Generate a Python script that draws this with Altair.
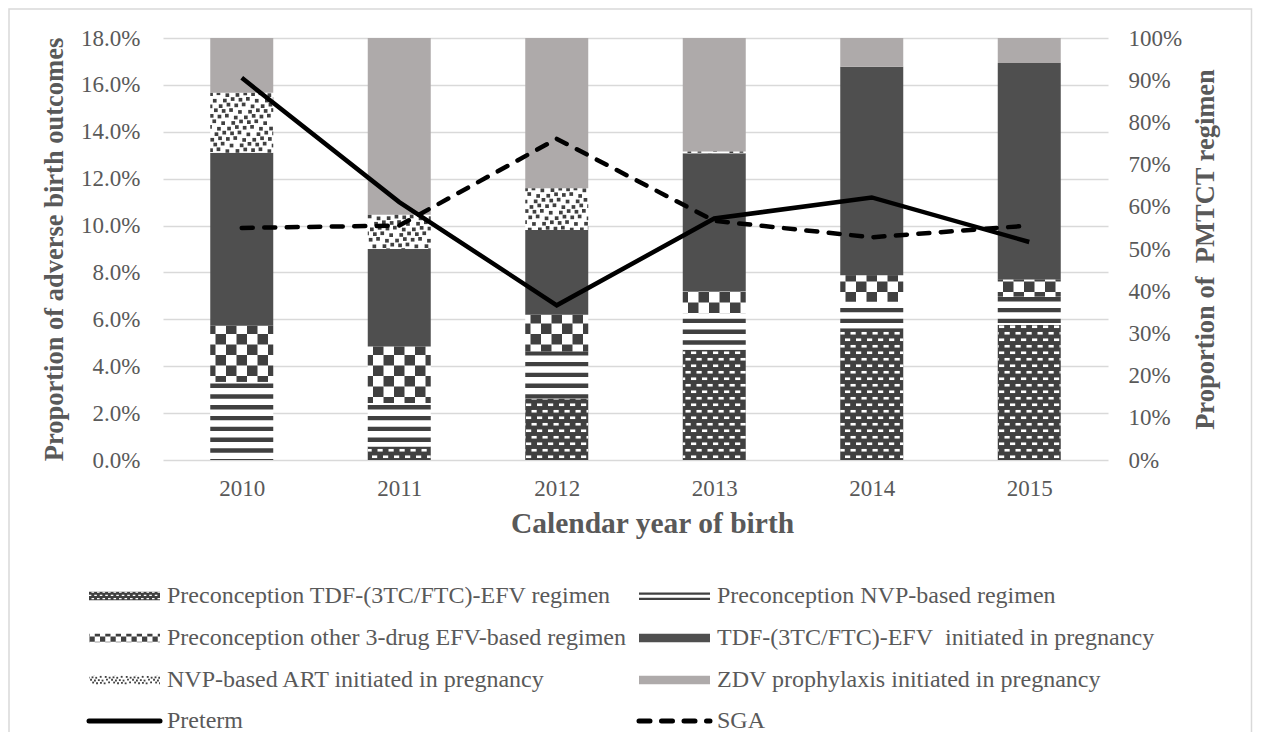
import altair as alt
import numpy as np
import pandas as pd

# ---------------- data ----------------
years = [2010, 2011, 2012, 2013, 2014, 2015]
regimens = [
    "Preconception TDF-(3TC/FTC)-EFV regimen",
    "Preconception NVP-based regimen",
    "Preconception other 3-drug EFV-based regimen",
    "TDF-(3TC/FTC)-EFV\u00a0\u00a0initiated in pregnancy",
    "NVP-based ART initiated in pregnancy",
    "ZDV prophylaxis initiated in pregnancy",
]
pre_tdf = [0.0, 3.2, 14.6, 26.1, 31.2, 32.0]
pre_nvp = [18.5, 10.3, 11.1, 8.7, 6.3, 6.7]
pre_other = [13.3, 13.4, 8.7, 5.1, 6.3, 4.1]
tdf_preg = [41.0, 23.1, 20.1, 32.8, 49.4, 51.3]
nvp_preg = [14.2, 8.1, 9.9, 0.4, 0.0, 0.0]
zdv = [13.0, 41.9, 35.6, 26.9, 6.8, 5.9]

series_names = ["Preterm", "SGA"]
preterm = [16.3, 11.0, 6.6, 10.3, 11.2, 9.3]
sga = [9.9, 10.0, 13.7, 10.2, 9.5, 10.0]

left_ticks = [0, 2, 4, 6, 8, 10, 12, 14, 16, 18]
right_ticks = [0, 10, 20, 30, 40, 50, 60, 70, 80, 90, 100]
x_title = "Calendar year of birth"
left_title = "Proportion of adverse birth outcomes"
right_title = "Proportion of\u00a0\u00a0PMTCT regimen"

# ---------------- style ----------------
W, H = 945, 422
X0, X1 = 2009.5, 2015.5
PXY = W / (X1 - X0)
PXP = H / 100.0
HALF = 0.2
FONT = "Liberation Serif"
TXT = "#595959"
GRID = "#d9d9d9"
DARK = "#4f4f4f"
PAT = "#404040"
LIGHT = "#aeaaaa"
WHITE = "#ffffff"
pattern_kind = ["bricks", "stripes", "checker", "solid", "confetti", "solid"]
base_fill = [PAT, WHITE, WHITE, DARK, WHITE, LIGHT]


def clip_rect(a, b, c, d, box):
    x0, x1, y0, y1 = box
    a, b = max(a, x0), min(b, x1)
    c, d = max(c, y0), min(d, y1)
    if b - a > 0.05 and d - c > 0.05:
        return (a, b, c, d)
    return None


def pat_stripes(box, s=1.0):
    P, T, off = 10.8 * s, 4.4 * s, 7.3 * s
    x0, x1, y0, y1 = box
    out = []
    k = int(np.floor((y0 - off) / P)) - 1
    while off + k * P <= y1:
        r = clip_rect(x0, x1, off + k * P, off + k * P + T, box)
        if r:
            out.append(r + (PAT,))
        k += 1
    return out


def pat_checker(box, s=1.0):
    C = 10.5 * s
    x0, x1, y0, y1 = box
    out = []
    for i in range(int(np.floor(x0 / C)), int(np.ceil(x1 / C)) + 1):
        for j in range(int(np.floor(y0 / C)), int(np.ceil(y1 / C)) + 1):
            if (i + j) % 2 == 0:
                r = clip_rect(i * C, (i + 1) * C, j * C, (j + 1) * C, box)
                if r:
                    out.append(r + (PAT,))
    return out


def pat_bricks(box, s=1.0):
    RY, DH, PX, DW = 6.5 * s, 2.6 * s, 11.0 * s, 5.2 * s
    x0, x1, y0, y1 = box
    out = []
    for j in range(int(np.floor(y0 / RY)) - 1, int(np.ceil(y1 / RY)) + 1):
        ox = (j % 2) * PX / 2
        for i in range(int(np.floor((x0 - ox) / PX)) - 1, int(np.ceil((x1 - ox) / PX)) + 1):
            r = clip_rect(ox + i * PX, ox + i * PX + DW,
                          j * RY + (RY - DH) / 2, j * RY + (RY + DH) / 2, box)
            if r:
                out.append(r + (WHITE,))
    return out


JIT = [(0.0, 0.0), (1.2, -0.8), (-1.0, 0.9), (0.6, 0.7), (-0.5, -1.0)]


def pat_confetti(box, s=1.0):
    PXc, RY, SQ = 8.4 * s, 5.6 * s, 3.7 * s
    x0, x1, y0, y1 = box
    out = []
    for j in range(int(np.floor(y0 / RY)) - 1, int(np.ceil(y1 / RY)) + 1):
        ox = (j % 2) * PXc / 2
        for i in range(int(np.floor((x0 - ox) / PXc)) - 1, int(np.ceil((x1 - ox) / PXc)) + 1):
            dx, dy = JIT[(i * 2 + j * 3) % 5]
            xa = ox + i * PXc + dx * s
            ya = j * RY + dy * s
            r = clip_rect(xa, xa + SQ, ya, ya + SQ, box)
            if r:
                out.append(r + (PAT,))
    return out


PATTERNS = {"stripes": pat_stripes, "checker": pat_checker,
            "bricks": pat_bricks, "confetti": pat_confetti}

# ---------------- bars (stacked) ----------------
shares = [pre_tdf, pre_nvp, pre_other, tdf_preg, nvp_preg, zdv]
seg_rows = []
for yi, yr in enumerate(years):
    lo = 0.0
    for ri, reg in enumerate(regimens):
        v = shares[ri][yi]
        seg_rows.append({"year": yr, "regimen": reg, "kind": pattern_kind[ri],
                         "xa": yr - HALF, "xb": yr + HALF, "lo": lo, "hi": lo + v})
        lo += v
seg = pd.DataFrame(seg_rows)
seg = seg[seg.hi - seg.lo > 0]

pat_rows = []
for _, r in seg.iterrows():
    f = PATTERNS.get(r.kind)
    if f is None:
        continue
    box = ((r.xa - X0) * PXY, (r.xb - X0) * PXY, r.lo * PXP, r.hi * PXP)
    for a, b, c, d, col in f(box):
        pat_rows.append({"xa": X0 + a / PXY, "xb": X0 + b / PXY,
                         "ya": c / PXP, "yb": d / PXP, "c": col})
pat = pd.DataFrame(pat_rows)

xs = alt.Scale(domain=[X0, X1], nice=False, zero=False)
ybar = alt.Scale(domain=[0, 100], nice=False)
yline = alt.Scale(domain=[0, 18], nice=False)


def x_axis():
    return alt.Axis(values=years, format="d", title=x_title, grid=False, domain=False,
                    ticks=False, tickSize=0, labelPadding=17, titlePadding=9,
                    titleFontSize=29.5, titleX=489, labelFlush=False)


def bar_axis():
    return alt.Axis(orient="right", values=right_ticks, labelExpr="datum.value + '%'",
                    grid=False, domain=False, ticks=False, tickSize=0, labelPadding=20,
                    labelOverlap=False, title=right_title, titleAngle=270, titlePadding=38)


def line_axis():
    return alt.Axis(orient="left", values=left_ticks,
                    labelExpr="format(datum.value, '.1f') + '%'",
                    grid=True, gridColor=GRID, gridWidth=1.5, domain=False, ticks=False,
                    tickSize=0, labelPadding=23, labelOverlap=False, title=left_title,
                    titlePadding=12)


base_bars = alt.Chart(seg).mark_rect().encode(
    x=alt.X("xa:Q", scale=xs, axis=x_axis()),
    x2="xb:Q",
    y=alt.Y("lo:Q", scale=ybar, axis=bar_axis()),
    y2="hi:Q",
    color=alt.Color("regimen:N", scale=alt.Scale(domain=regimens, range=base_fill), legend=None),
)
pattern_layer = alt.Chart(pat).mark_rect().encode(
    x=alt.X("xa:Q", scale=xs, axis=x_axis()),
    x2="xb:Q",
    y=alt.Y("ya:Q", scale=ybar, axis=bar_axis()),
    y2="yb:Q",
    color=alt.Color("c:N", scale=None),
)
bars_group = alt.layer(base_bars, pattern_layer)

# ---------------- lines ----------------
line_df = pd.DataFrame({"year": years * 2,
                        "series": [series_names[0]] * 6 + [series_names[1]] * 6,
                        "value": preterm + sga})
preterm_layer = alt.Chart(line_df).transform_filter("datum.series == 'Preterm'").mark_line(
    color="black", strokeWidth=4.5).encode(
    x=alt.X("year:Q", scale=xs, axis=x_axis()),
    y=alt.Y("value:Q", scale=yline, axis=line_axis()),
)
sga_layer = alt.Chart(line_df).transform_filter("datum.series == 'SGA'").mark_line(
    color="black", strokeWidth=4.5, strokeDash=[11, 11.5], strokeCap="round").encode(
    x=alt.X("year:Q", scale=xs, axis=x_axis()),
    y=alt.Y("value:Q", scale=yline, axis=line_axis()),
)
lines_group = alt.layer(preterm_layer, sga_layer)

main = alt.layer(bars_group, lines_group).resolve_scale(y="independent")

# ---------------- legend (pixel space) ----------------
leg_order = [0, 1, 2, 3, 4, 5]  # regimen indices in reading order
col_x = [-74, 476]
row_y = [558, 600, 642, 683]
SW, SH = 71, 8.5
leg_base, leg_pat, leg_txt = [], [], []
for k, ri in enumerate(leg_order):
    cx = col_x[k % 2]
    cy = row_y[k // 2]
    box = (cx, cx + SW, cy - SH / 2, cy + SH / 2)
    leg_base.append({"x": box[0], "x2": box[1], "y": box[2], "y2": box[3], "c": base_fill[ri]})
    f = PATTERNS.get(pattern_kind[ri])
    if f is not None:
        for a, b, c, d, col in f(box, 0.5):
            leg_pat.append({"x": a, "x2": b, "y": c, "y2": d, "c": col})
    leg_txt.append({"x": cx + SW + 7, "y": cy, "t": regimens[ri]})
line_leg = []
for k, nm in enumerate(series_names):
    cx = col_x[k]
    cy = row_y[3]
    line_leg.append({"x": cx, "x2": cx + SW, "y": cy, "s": nm})
    leg_txt.append({"x": cx + SW + 7, "y": cy, "t": nm})
leg_base = pd.DataFrame(leg_base)
leg_pat = pd.DataFrame(leg_pat)
leg_txt = pd.DataFrame(leg_txt)
line_leg = pd.DataFrame(line_leg)

frame = alt.Chart(pd.DataFrame({"k": [0]})).mark_rect(
    fill="white", fillOpacity=0, stroke=GRID, strokeWidth=1.5).encode(
    x=alt.value(-154), x2=alt.value(1088.5), y=alt.value(-29), y2=alt.value(760))

lb = alt.Chart(leg_base).mark_rect().encode(
    x=alt.X("x:Q", scale=None, axis=None), x2="x2:Q",
    y=alt.Y("y:Q", scale=None, axis=None), y2="y2:Q",
    color=alt.Color("c:N", scale=None))
lp = alt.Chart(leg_pat).mark_rect().encode(
    x=alt.X("x:Q", scale=None, axis=None), x2="x2:Q",
    y=alt.Y("y:Q", scale=None, axis=None), y2="y2:Q",
    color=alt.Color("c:N", scale=None))
ll_solid = alt.Chart(line_leg).transform_filter("datum.s == 'Preterm'").mark_rule(
    color="black", strokeWidth=5, strokeCap="round").encode(
    x=alt.X("x:Q", scale=None, axis=None), x2="x2:Q",
    y=alt.Y("y:Q", scale=None, axis=None))
ll_dash = alt.Chart(line_leg).transform_filter("datum.s == 'SGA'").mark_rule(
    color="black", strokeWidth=5, strokeCap="round", strokeDash=[11, 11.5]).encode(
    x=alt.X("x:Q", scale=None, axis=None), x2="x2:Q",
    y=alt.Y("y:Q", scale=None, axis=None))
lt = alt.Chart(leg_txt).mark_text(align="left", baseline="middle", font=FONT,
                                  fontSize=24, color=TXT).encode(
    x=alt.X("x:Q", scale=None, axis=None),
    y=alt.Y("y:Q", scale=None, axis=None),
    text="t:N")
legend_group = alt.layer(frame, lb, lp, ll_solid, ll_dash, lt)

chart = alt.layer(main, legend_group).resolve_scale(
    x="independent", y="independent", color="independent"
).properties(
    width=W, height=H,
    autosize=alt.AutoSizeParams(type="none"),
    padding={"left": 155, "top": 30, "right": 145, "bottom": 272},
).configure_view(stroke=None).configure_axis(
    labelFont=FONT, labelFontSize=23, labelColor=TXT,
    titleFont=FONT, titleFontSize=26.5, titleFontWeight="bold", titleColor=TXT,
)

chart.save("out.html", embed_options={"renderer": "svg", "actions": False})
